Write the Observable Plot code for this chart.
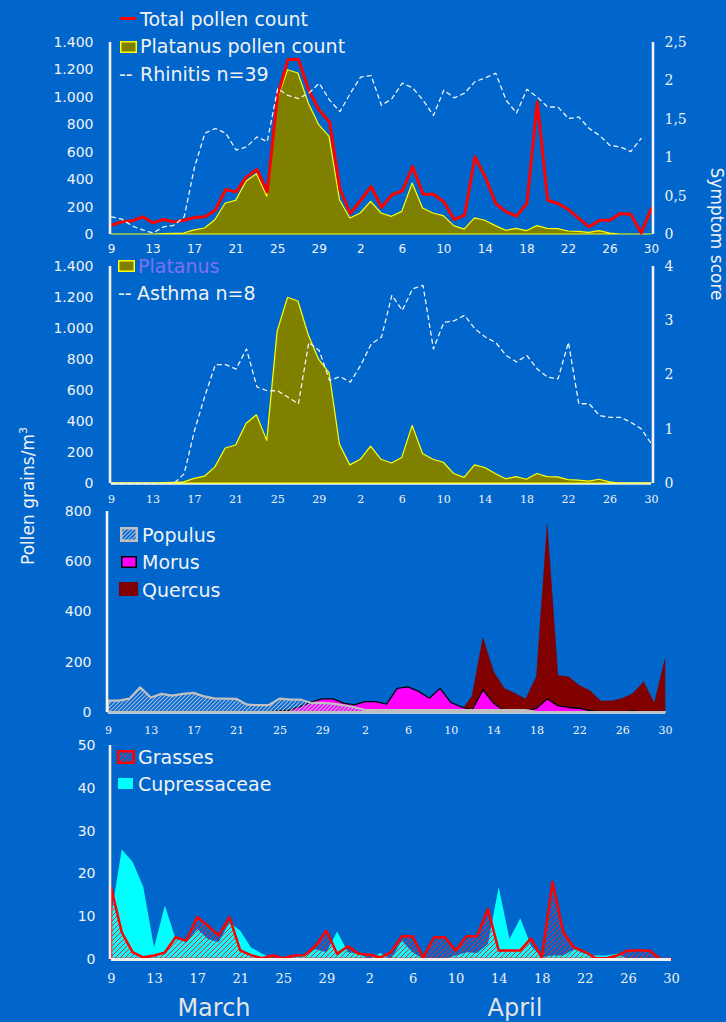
<!DOCTYPE html>
<html><head><meta charset="utf-8">
<script src="https://cdn.jsdelivr.net/npm/d3@7"></script>
<script src="https://cdn.jsdelivr.net/npm/@observablehq/plot@0.6"></script>
<style>
html,body{margin:0;padding:0;background:#0066cc;}
#chart{position:relative;width:726px;height:1022px;background:#0066cc;overflow:hidden;font-family:"DejaVu Sans",Verdana,sans-serif;color:#f2f2f2;}
.leg{position:absolute;font-size:19px;line-height:18px;white-space:nowrap;}
</style></head><body><div id="chart"></div>
<script>
// ---- categories (day of month, 9 March .. 30 April) ----
const dayOfMonth = [...d3.range(9, 32), ...d3.range(1, 31)];
const xTicks = d3.range(0, 53, 4);

// ---- series (grains/m3) ----
const totalPollen = [68,92,100,129,85,109,92,104,124,129, 177,328,311,420,474,311,1016,1276,1276,1052, 906,821,330,153,250,350,197,290,318,495, 294,294,238,109,141,566,420,226,165,134, 226,967,250,226,182,117,56,104,104,153, 148,12,190];
const platanus = [0,0,0,0,0,3,5,7,30,44, 104,226,245,384,440,275,980,1198,1174,955, 797,712,250,117,153,238,153,129,165,372, 190,153,134,61,36,117,100,61,27,41, 24,61,41,39,22,19,12,24,7,0, 0,0,0];
const populus = [45,45,53,98,58,72,65,72,76,62, 53,53,52,29,27,27,53,49,49,36, 36,33,27,19,8,8,8,8,8,8, 8,8,8,8,8,8,8,8,8,8, 0,0,0,0,0,0,0,0,0,0, 0,0,0];
const morus = [0,0,0,0,0,0,0,0,0,0, 0,0,0,0,0,0,5,8,22,40, 52,52,35,28,41,41,31,94,100,82, 55,94,38,20,8,88,35,5,0,0, 15,52,25,18,15,5,0,0,0,4, 0,0,0];
const quercus = [0,0,0,0,0,0,0,0,0,0, 0,0,0,0,0,0,0,0,0,0, 0,0,0,0,0,0,0,0,0,0, 0,0,0,5,65,295,160,94,74,52, 141,745,145,140,105,85,44,44,54,74, 120,35,211];
const grasses = [16.8,6.25,1.6,0.4,0.8,1.5,5.1,4.3,9.8,7.8, 5.5,9.8,2.0,0.9,0.2,0.8,0.2,0.8,0.9,3.1, 6.6,1.2,3.0,1.2,1.0,0.4,1.6,5.3,5.3,0.4, 5.1,5.1,2.0,5.3,5.3,11.7,2.0,2.0,2.0,4.8, 0.4,18,6.25,2.7,1.7,0.2,0.2,0.8,2.0,2.0, 2.0,0,null];
const cupressaceae = [10,25.6,22.7,16.8,2.7,12.5,4.7,3.9,7.0,4.7, 3.9,8.6,6.6,2.7,1.3,0.2,0,0.4,0.8,2.3, 1.6,6.4,1.6,1.2,0,1.4,0,4.3,1.6,0, 0,0,0.8,1.6,1.4,3.5,16.8,4.7,9.5,3.1, 0.4,0.8,0.8,2.3,1.2,0.8,0.8,1.2,0,0, 0,0,null];

// ---- symptom scores ----
const rhinitis = [0.23,0.2,0.11,0.06,0.02,0.1,0.12,0.23,0.88,1.32, 1.38,1.32,1.1,1.14,1.27,1.21,1.9,1.81,1.77,1.84, 1.97,1.75,1.6,1.84,2.05,2.07,1.68,1.77,1.97,1.91, 1.75,1.55,1.88,1.78,1.84,1.99,2.04,2.1,1.75,1.58, 1.89,1.79,1.66,1.66,1.51,1.53,1.38,1.29,1.16,1.14, 1.08,1.25,null];
const asthma = [0,0,0,0,0,0,0,0.18,0.98,1.62, 2.19,2.19,2.11,2.48,1.78,1.71,1.71,1.59,1.47,2.6, 2.45,1.9,1.97,1.87,2.18,2.57,2.7,3.47,3.19,3.59, 3.65,2.48,2.97,3.0,3.1,2.85,2.7,2.6,2.36,2.24, 2.36,2.11,1.96,1.93,2.6,1.47,1.47,1.25,1.22,1.22, 1.13,1.01,0.73];

// ---- tick values ----
const pollenTicks = [0,200,400,600,800,1000,1200,1400];
const pollenTicks3 = [0,200,400,600,800];
const pollenTicks4 = [0,10,20,30,40,50];
const rhinitisTicks = [0,0.5,1,1.5,2,2.5];
const asthmaTicks = [0,1,2,3,4];

const rows = dayOfMonth.map((d, i) => ({
  i, d,
  total: totalPollen[i], platanus: platanus[i], populus: populus[i], morus: morus[i],
  quercus: quercus[i], grasses: grasses[i], cupressaceae: cupressaceae[i],
  rhinitis: rhinitis[i], asthma: asthma[i]
}));

const FG = "#f2f2f2";
const SANS = "DejaVu Sans, Verdana, sans-serif";
const SERIF = "DejaVu Serif, serif";
const NS = "http://www.w3.org/2000/svg";
const chart = document.getElementById("chart");

// patterns
const defsSvg = document.createElementNS(NS, "svg");
defsSvg.setAttribute("width", 0); defsSvg.setAttribute("height", 0);
defsSvg.style.position = "absolute";
defsSvg.innerHTML = `<defs>
<pattern id="hatchPopulus" patternUnits="userSpaceOnUse" width="4" height="4"><path d="M-1,1L1,-1M0,4L4,0M3,5L5,3" stroke="#a4bce0" stroke-width="1.2"/></pattern>
<pattern id="hatchGrass" patternUnits="userSpaceOnUse" width="5" height="5"><path d="M-1,1L1,-1M0,5L5,0M4,6L6,4" stroke="#ff2020" stroke-width="1"/></pattern>
</defs>`;
chart.appendChild(defsSvg);

const thousand = v => d3.format(",")(v).replace(/,/g, ".");
const comma = v => String(v).replace(".", ",");
const xFmt = i => dayOfMonth[i];

function panel(top, height, m, ydom, marks) {
  const svg = Plot.plot({
    width: 726, height,
    marginTop: m[0], marginRight: m[1], marginBottom: m[2], marginLeft: m[3],
    x: {domain: [0, 52]},
    y: {domain: ydom},
    style: {background: "transparent", color: FG, fontFamily: SANS, fontSize: "14px", overflow: "visible"},
    marks
  });
  const d = document.createElement("div");
  d.style.cssText = `position:absolute;left:0;top:${top}px;`;
  d.appendChild(svg);
  chart.appendChild(d);
}

const xAxis = (pad, font, size) => Plot.axisX(xTicks, {tickSize: 0, tickPadding: pad, tickFormat: xFmt, fontFamily: font, fontSize: size, label: null});
const leftAxis = (ticks, pad, fmt) => Plot.axisY(ticks, {tickSize: 0, tickPadding: pad, tickFormat: fmt, fontFamily: SANS, fontSize: 14, label: null});
const rightScoreAxis = (ticks, max) => Plot.axisY(ticks.map(s => s * 1400 / max), {
  anchor: "right", tickSize: 0, tickPadding: 13, fontFamily: SERIF, fontSize: 14, label: null,
  tickFormat: v => comma(Math.round(v * max / 1400 * 10) / 10)
});
const vRule = (x, ymax, dx) => Plot.ruleX([x], {y1: 0, y2: ymax, stroke: FG, strokeWidth: 2.6, dx});

// Panel 1: total + platanus + rhinitis
panel(0, 258, [42, 75, 24, 111], [0, 1400], [
  Plot.areaY(rows, {x: "i", y: "platanus", fill: "#808000", stroke: "#ffff00", strokeWidth: 1.2}),
  Plot.lineY(rows, {x: "i", y: "total", stroke: "#ff0000", strokeWidth: 3}),
  Plot.lineY(rows, {x: "i", y: d => d.rhinitis == null ? NaN : d.rhinitis * 1400 / 2.5, stroke: FG, strokeWidth: 1.3, strokeDasharray: "4,4"}),
  vRule(0, 1400, -1.5), vRule(52, 1400, 1.5),
  xAxis(10, SANS, 12),
  leftAxis(pollenTicks, 18, thousand),
  rightScoreAxis(rhinitisTicks, 2.5)
]);

// Panel 2: platanus + asthma
panel(250, 258, [16, 75, 25, 111], [0, 1400], [
  Plot.ruleY([0], {stroke: FG, strokeWidth: 2.5}),
  Plot.areaY(rows, {x: "i", y: "platanus", fill: "#808000", stroke: "#ffff00", strokeWidth: 1.2}),
  Plot.lineY(rows, {x: "i", y: d => d.asthma * 1400 / 4, stroke: FG, strokeWidth: 1.3, strokeDasharray: "4,4"}),
  vRule(0, 1400, -1.5), vRule(52, 1400, 1.5),
  xAxis(12, SERIF, 11),
  leftAxis(pollenTicks, 18, thousand),
  rightScoreAxis(asthmaTicks, 4)
]);

// Panel 3: populus, morus, quercus
panel(505, 235, [6, 61, 28, 108], [0, 800], [
  Plot.ruleY([0], {stroke: FG, strokeWidth: 2.5}),
  Plot.areaY(rows, {x: "i", y: "quercus", fill: "#800000", stroke: "#800000", strokeWidth: 0.5}),
  Plot.areaY(rows, {x: "i", y: "morus", fill: "#ff00ff", stroke: "#000000", strokeWidth: 1.3}),
  Plot.areaY(rows, {x: "i", y: "populus", fill: "url(#hatchPopulus)", stroke: "#c0c0c0", strokeWidth: 2.2}),
  vRule(0, 800, -1.5),
  xAxis(14, SERIF, 11),
  leftAxis(pollenTicks3, 17, d => d)
]);

// Panel 4: grasses, cupressaceae
panel(738, 284, [7, 55, 63, 111], [0, 50], [
  Plot.areaY(rows, {x: "i", y: "cupressaceae", fill: "#00ffff"}),
  Plot.areaY(rows, {x: "i", y: "grasses", fill: "url(#hatchGrass)", stroke: "#ff0000", strokeWidth: 2.5}),
  Plot.ruleY([0], {stroke: FG, strokeWidth: 3}),
  vRule(0, 50, -1.5),
  xAxis(14, SERIF, 13),
  leftAxis(pollenTicks4, 16, d => d)
]);

// ---- legends & titles ----
function label(text, left, cy, color, size = 19) {
  const d = document.createElement("div");
  d.className = "leg";
  d.textContent = text;
  d.style.left = left + "px";
  d.style.top = (cy - 9) + "px";
  d.style.fontSize = size + "px";
  if (color) d.style.color = color;
  chart.appendChild(d);
  return d;
}
function swatch(left, top, w, h, fill, stroke, sw = 0) {
  const s = document.createElementNS(NS, "svg");
  s.setAttribute("width", w); s.setAttribute("height", h);
  s.style.cssText = `position:absolute;left:${left}px;top:${top}px;overflow:visible`;
  const r = document.createElementNS(NS, "rect");
  r.setAttribute("x", sw / 2); r.setAttribute("y", sw / 2);
  r.setAttribute("width", w - sw); r.setAttribute("height", h - sw);
  r.setAttribute("fill", fill);
  if (stroke) { r.setAttribute("stroke", stroke); r.setAttribute("stroke-width", sw); }
  s.appendChild(r);
  chart.appendChild(s);
}
function rotated(text, cx, cy, deg, size) {
  const d = document.createElement("div");
  d.textContent = text;
  d.style.cssText = `position:absolute;left:${cx}px;top:${cy}px;white-space:nowrap;font-size:${size}px;line-height:${size + 2}px;transform:translate(-50%,-50%) rotate(${deg}deg);`;
  chart.appendChild(d);
  return d;
}

// panel 1 legend
swatch(120, 17, 16, 3, "#ff0000");
label("Total pollen count", 140, 19);
swatch(120, 41, 17, 12, "#808000", "#ffff00", 1.5);
label("Platanus pollen count", 140, 46);
label("--", 119, 74);
label("Rhinitis n=39", 140, 74);

// panel 2 legend
swatch(118, 260, 17, 12, "#808000", "#ffff00", 1.5);
label("Platanus", 138, 266, "#8070f0");
label("--", 118, 293);
label("Asthma n=8", 137, 293);

// panel 3 legend
swatch(120, 527, 18, 15, "url(#hatchPopulus)", "#c0c0c0", 2.5);
label("Populus", 142, 535);
swatch(121, 556, 16, 12, "#ff00ff", "#000000", 1.5);
label("Morus", 142, 562);
swatch(119, 582, 19, 14, "#800000");
label("Quercus", 142, 590);

// panel 4 legend
swatch(117, 750, 18, 14, "url(#hatchGrass)", "#ff0000", 2.5);
label("Grasses", 138, 757);
swatch(118, 778, 15, 11, "#00ffff");
label("Cupressaceae", 138, 784);

// axis titles
const pg = rotated("", 26, 496, -90, 17);
pg.innerHTML = "Pollen grains/m<sup style='font-size:11px'>3</sup>";
rotated("Symptom score", 716, 234, 90, 17);

// month labels
const mar = label("March", 214, 1006, "#e4e4e4", 24);
mar.style.transform = "translate(-50%,-1px)";
mar.style.lineHeight = "24px";
const apr = label("April", 515, 1006, "#e4e4e4", 24);
apr.style.transform = "translate(-50%,-1px)";
apr.style.lineHeight = "24px";
</script>
</body></html>
